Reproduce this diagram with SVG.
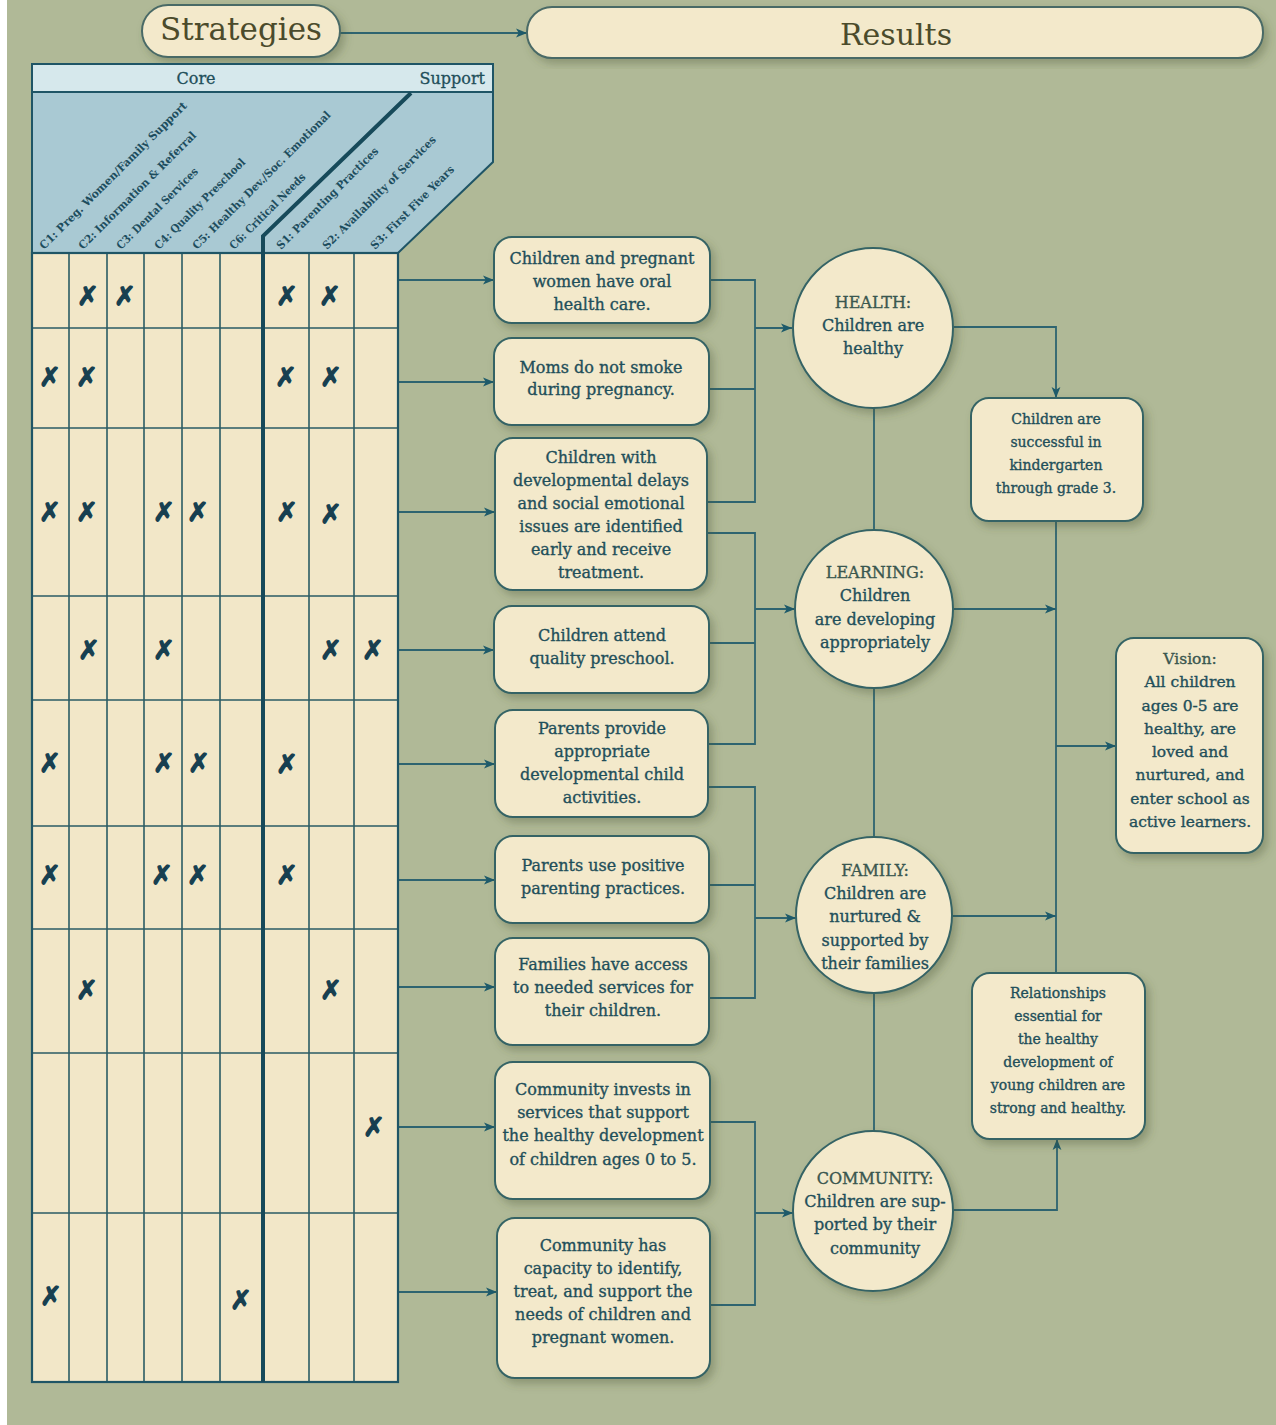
<svg xmlns="http://www.w3.org/2000/svg" width="1276" height="1425" viewBox="0 0 1276 1425">
<defs>
<style>
.bg{fill:#b0b997}
.box{fill:#f3e9cb;stroke:#356465;stroke-width:2}
.pill{fill:#f3e9cb;stroke:#4a6a66;stroke-width:2}
.t,.ts,.tv{font-family:"DejaVu Serif","Liberation Serif",serif;fill:#1f4f5a;text-anchor:middle;stroke:#1f4f5a;stroke-width:0.35}
.t{font-size:16px}
.ts{font-size:14px}
.tv{font-size:15.5px}
.h{fill:#3a574f;stroke:#3a574f}
.title{font-family:"DejaVu Serif","Liberation Serif",serif;font-size:31px;fill:#4b4b2b;text-anchor:middle}
.hdr{font-family:"DejaVu Serif","Liberation Serif",serif;font-size:16px;fill:#1f4f5a;stroke:#1f4f5a;stroke-width:0.3}
.col{font-family:"DejaVu Serif","Liberation Serif",serif;font-size:11px;font-weight:bold;fill:#1d4d5e}
.x{font-family:"DejaVu Sans",sans-serif;font-size:26px;font-weight:bold;fill:#173f50;stroke:#173f50;stroke-width:1.3;text-anchor:middle}
.gl{stroke:#2b5c64;stroke-width:1.6;fill:none}
.c{stroke:#2e6470;stroke-width:1.8;fill:none}
.ca{stroke:#2e6470;stroke-width:1.8;fill:none;marker-end:url(#arr)}
</style>
<marker id="arr" viewBox="0 0 10 10" refX="10" refY="5" markerWidth="11" markerHeight="11" markerUnits="userSpaceOnUse" orient="auto">
<path d="M0,1 L10,5 L0,9 L2.5,5 z" fill="#1d5a6a"/>
</marker>
<filter id="sh" x="-20%" y="-20%" width="140%" height="140%">
<feDropShadow dx="4" dy="5" stdDeviation="4" flood-color="#4a5238" flood-opacity="0.35"/>
</filter>
</defs>

<rect x="0" y="0" width="1276" height="1425" fill="#ffffff"/>
<rect class="bg" x="7" y="0" width="1269" height="1425"/>

<g id="connectors">
<path class="ca" d="M340,33 H527"/>
<path class="ca" d="M398,280 H494"/>
<path class="ca" d="M398,382 H494"/>
<path class="ca" d="M398,512 H495"/>
<path class="ca" d="M398,650 H494"/>
<path class="ca" d="M398,764 H495"/>
<path class="ca" d="M398,880 H495"/>
<path class="ca" d="M398,987 H495"/>
<path class="ca" d="M398,1127 H495"/>
<path class="ca" d="M398,1292 H497"/>
<path class="c" d="M710,280 H755 V502 H707"/>
<path class="c" d="M709,389 H755"/>
<path class="ca" d="M755,328 H792"/>
<path class="c" d="M707,533 H755 V744 H708"/>
<path class="c" d="M709,643 H755"/>
<path class="ca" d="M755,609 H795"/>
<path class="c" d="M708,787 H755 V998 H709"/>
<path class="c" d="M709,885 H755"/>
<path class="ca" d="M755,918 H796"/>
<path class="c" d="M710,1122 H755 V1305 H710"/>
<path class="ca" d="M755,1213 H793"/>
<path class="c" d="M874,400 V1135"/>
<path class="ca" d="M953,327 H1056 V398"/>
<path class="c" d="M1056,522 V973"/>
<path class="ca" d="M954,609 H1056"/>
<path class="ca" d="M952,916 H1056"/>
<path class="ca" d="M1056,746 H1116"/>
<path class="ca" d="M953,1210 H1057 V1139"/>
</g>

<g id="strategies">
<rect class="pill" x="142" y="5" width="198" height="52" rx="26" filter="url(#sh)"/>
<text class="title" x="241" y="40">Strategies</text>
</g>
<g id="results">
<rect class="pill" x="527" y="7" width="736" height="51" rx="25" filter="url(#sh)"/>
<text class="title" x="896" y="45" style="font-size:30px">Results</text>
</g>

<g id="strategy-table">
<rect x="32" y="64" width="461" height="28" fill="#d6e8ec" stroke="#1f5566" stroke-width="2"/>
<text class="hdr" x="196" y="84" text-anchor="middle">Core</text>
<text class="hdr" x="485" y="84" text-anchor="end">Support</text>
<path d="M32,92 H493 V162 L398,253 H32 Z" fill="#a9c9d3" stroke="#1f5566" stroke-width="2"/>
<text class="col" transform="translate(44,250) rotate(-45)" textLength="203" lengthAdjust="spacingAndGlyphs">C1: Preg. Women/Family Support</text>
<text class="col" transform="translate(83,250) rotate(-45)" textLength="161" lengthAdjust="spacingAndGlyphs">C2: Information &amp; Referral</text>
<text class="col" transform="translate(121,250) rotate(-45)" textLength="110" lengthAdjust="spacingAndGlyphs">C3: Dental Services</text>
<text class="col" transform="translate(159,250) rotate(-45)" textLength="123" lengthAdjust="spacingAndGlyphs">C4: Quality Preschool</text>
<text class="col" transform="translate(197,250) rotate(-45)" textLength="190" lengthAdjust="spacingAndGlyphs">C5: Healthy Dev./Soc. Emotional</text>
<text class="col" transform="translate(234,250) rotate(-45)" textLength="102" lengthAdjust="spacingAndGlyphs">C6: Critical Needs</text>
<text class="col" transform="translate(281,250) rotate(-45)" textLength="139" lengthAdjust="spacingAndGlyphs">S1: Parenting Practices</text>
<text class="col" transform="translate(327,250) rotate(-45)" textLength="155" lengthAdjust="spacingAndGlyphs">S2: Availability of Services</text>
<text class="col" transform="translate(375,250) rotate(-45)" textLength="113" lengthAdjust="spacingAndGlyphs">S3: First Five Years</text>
<rect x="32" y="253" width="366" height="1129" fill="#f2e7c8"/>
<path class="gl" d="M69,253 V1382 M107,253 V1382 M144,253 V1382 M182,253 V1382 M220,253 V1382 M309,253 V1382 M354,253 V1382"/>
<path class="gl" d="M32,328 H398 M32,428 H398 M32,596 H398 M32,700 H398 M32,826 H398 M32,929 H398 M32,1053 H398 M32,1213 H398"/>
<rect x="32" y="253" width="366" height="1129" fill="none" stroke="#1f5566" stroke-width="2.2"/>
<path d="M411,93 L263,236 V1382" fill="none" stroke="#174a5a" stroke-width="4"/>
<g id="marks">
<text class="x" x="88" y="305">✗</text><text class="x" x="125" y="305">✗</text><text class="x" x="287" y="305">✗</text><text class="x" x="330" y="305">✗</text>
<text class="x" x="50" y="386">✗</text><text class="x" x="87" y="386">✗</text><text class="x" x="286" y="386">✗</text><text class="x" x="331" y="386">✗</text>
<text class="x" x="50" y="521">✗</text><text class="x" x="87" y="521">✗</text><text class="x" x="164" y="521">✗</text><text class="x" x="198" y="521">✗</text><text class="x" x="287" y="521">✗</text><text class="x" x="331" y="523">✗</text>
<text class="x" x="89" y="659">✗</text><text class="x" x="164" y="659">✗</text><text class="x" x="331" y="659">✗</text><text class="x" x="373" y="659">✗</text>
<text class="x" x="50" y="772">✗</text><text class="x" x="164" y="772">✗</text><text class="x" x="199" y="772">✗</text><text class="x" x="287" y="773">✗</text>
<text class="x" x="50" y="884">✗</text><text class="x" x="162" y="884">✗</text><text class="x" x="198" y="884">✗</text><text class="x" x="287" y="884">✗</text>
<text class="x" x="87" y="999">✗</text><text class="x" x="331" y="999">✗</text>
<text class="x" x="374" y="1136">✗</text>
<text class="x" x="51" y="1305">✗</text><text class="x" x="241" y="1309">✗</text>
</g>
</g>

<g id="o1"><rect class="box" x="494" y="237" width="216" height="86" rx="18" filter="url(#sh)"/>
<text class="t" x="602" y="264">Children and pregnant</text><text class="t" x="602" y="287">women have oral</text><text class="t" x="602" y="310">health care.</text></g>
<g id="o2"><rect class="box" x="494" y="338" width="215" height="87" rx="18" filter="url(#sh)"/>
<text class="t" x="601" y="373">Moms do not smoke</text><text class="t" x="601" y="395">during pregnancy.</text></g>
<g id="o3"><rect class="box" x="495" y="438" width="212" height="152" rx="18" filter="url(#sh)"/>
<text class="t" x="601" y="463">Children with</text><text class="t" x="601" y="486">developmental delays</text><text class="t" x="601" y="509">and social emotional</text><text class="t" x="601" y="532">issues are identified</text><text class="t" x="601" y="555">early and receive</text><text class="t" x="601" y="578">treatment.</text></g>
<g id="o4"><rect class="box" x="494" y="606" width="215" height="87" rx="18" filter="url(#sh)"/>
<text class="t" x="602" y="641">Children attend</text><text class="t" x="602" y="664">quality preschool.</text></g>
<g id="o5"><rect class="box" x="495" y="710" width="213" height="107" rx="18" filter="url(#sh)"/>
<text class="t" x="602" y="734">Parents provide</text><text class="t" x="602" y="757">appropriate</text><text class="t" x="602" y="780">developmental child</text><text class="t" x="602" y="803">activities.</text></g>
<g id="o6"><rect class="box" x="495" y="836" width="214" height="87" rx="18" filter="url(#sh)"/>
<text class="t" x="603" y="871">Parents use positive</text><text class="t" x="603" y="894">parenting practices.</text></g>
<g id="o7"><rect class="box" x="495" y="938" width="214" height="107" rx="18" filter="url(#sh)"/>
<text class="t" x="603" y="970">Families have access</text><text class="t" x="603" y="993">to needed services for</text><text class="t" x="603" y="1016">their children.</text></g>
<g id="o8"><rect class="box" x="495" y="1062" width="215" height="137" rx="18" filter="url(#sh)"/>
<text class="t" x="603" y="1095">Community invests in</text><text class="t" x="603" y="1118">services that support</text><text class="t" x="603" y="1141">the healthy development</text><text class="t" x="603" y="1165">of children ages 0 to 5.</text></g>
<g id="o9"><rect class="box" x="497" y="1218" width="213" height="160" rx="18" filter="url(#sh)"/>
<text class="t" x="603" y="1251">Community has</text><text class="t" x="603" y="1274">capacity to identify,</text><text class="t" x="603" y="1297">treat, and support the</text><text class="t" x="603" y="1320">needs of children and</text><text class="t" x="603" y="1343">pregnant women.</text></g>

<g id="health"><circle class="box" cx="873" cy="328" r="80" filter="url(#sh)"/>
<text class="t h" x="873" y="308">HEALTH:</text><text class="t" x="873" y="331">Children are</text><text class="t" x="873" y="354">healthy</text></g>
<g id="learning"><circle class="box" cx="874" cy="609" r="79" filter="url(#sh)"/>
<text class="t h" x="875" y="578">LEARNING:</text><text class="t" x="875" y="601">Children</text><text class="t" x="875" y="625">are developing</text><text class="t" x="875" y="648">appropriately</text></g>
<g id="family"><circle class="box" cx="874" cy="915" r="78" filter="url(#sh)"/>
<text class="t h" x="875" y="876">FAMILY:</text><text class="t" x="875" y="899">Children are</text><text class="t" x="875" y="922">nurtured &amp;</text><text class="t" x="875" y="946">supported by</text><text class="t" x="875" y="969">their families</text></g>
<g id="community"><circle class="box" cx="873" cy="1211" r="80" filter="url(#sh)"/>
<text class="t h" x="875" y="1184">COMMUNITY:</text><text class="t" x="875" y="1207">Children are sup-</text><text class="t" x="875" y="1230">ported by their</text><text class="t" x="875" y="1254">community</text></g>

<g id="kindergarten"><rect class="box" x="971" y="398" width="172" height="123" rx="18" filter="url(#sh)"/>
<text class="ts" x="1056" y="424">Children are</text><text class="ts" x="1056" y="447">successful in</text><text class="ts" x="1056" y="470">kindergarten</text><text class="ts" x="1056" y="493">through grade 3.</text></g>
<g id="vision"><rect class="box" x="1116" y="638" width="147" height="215" rx="18" filter="url(#sh)"/>
<text class="tv h" x="1190" y="664">Vision:</text><text class="tv" x="1190" y="687">All children</text><text class="tv" x="1190" y="711">ages 0-5 are</text><text class="tv" x="1190" y="734">healthy, are</text><text class="tv" x="1190" y="757">loved and</text><text class="tv" x="1190" y="780">nurtured, and</text><text class="tv" x="1190" y="804">enter school as</text><text class="tv" x="1190" y="827">active learners.</text></g>
<g id="relationships"><rect class="box" x="972" y="973" width="173" height="166" rx="18" filter="url(#sh)"/>
<text class="ts" x="1058" y="998">Relationships</text><text class="ts" x="1058" y="1021">essential for</text><text class="ts" x="1058" y="1044">the healthy</text><text class="ts" x="1058" y="1067">development of</text><text class="ts" x="1058" y="1090">young children are</text><text class="ts" x="1058" y="1113">strong and healthy.</text></g>
</svg>
